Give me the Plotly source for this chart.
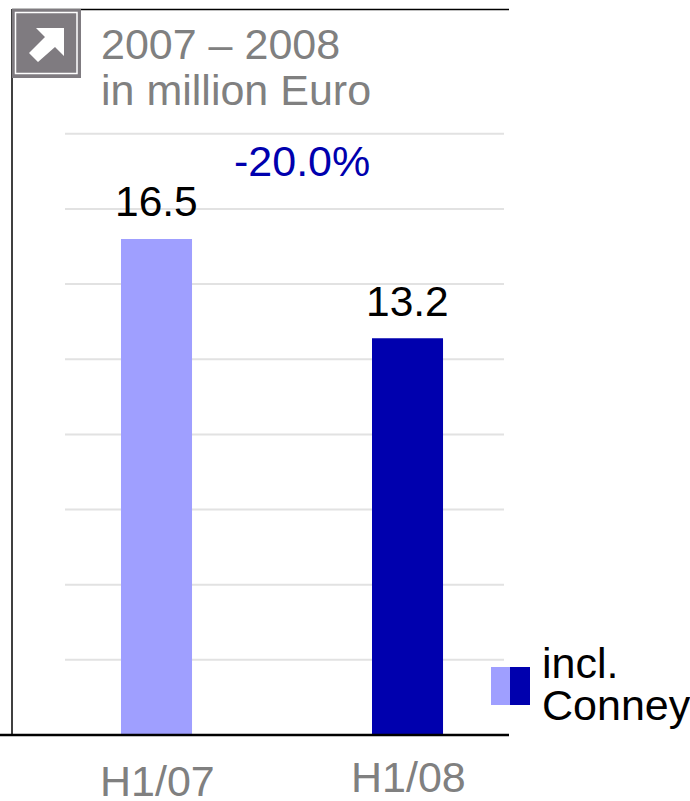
import plotly.graph_objects as go

# Half-year figures in million Euro
periods = ["H1/07", "H1/08"]
revenue = [16.5, 13.2]
bar_colors = ["#9f9fff", "#0000ae"]
value_labels = ["16.5", "13.2"]
change_label = "-20.0%"
title_lines = ["2007 – 2008", "in million Euro"]
legend_lines = ["incl.", "Conney"]
grid_values = [2.5, 5, 7.5, 10, 12.5, 15, 17.5, 20]

W, H = 690, 801
L, R, T, B = 12, 509, 9, 735
FONT = "Liberation Sans, Arial, sans-serif"
SIZE = 43


def fx(px):
    return (px - L) / (R - L)


def fy(py):
    return (B - py) / (B - T)


def pixel_rect(x0, y0, x1, y1, fill, line=None, lw=0):
    return dict(type="rect", xref="paper", yref="paper", x0=fx(x0), x1=fx(x1),
                y0=fy(y1), y1=fy(y0), fillcolor=fill, layer="above",
                line=dict(color=line, width=lw) if line else dict(width=0))


def pixel_line(x0, y0, x1, y1, color, lw):
    return dict(type="line", xref="paper", yref="paper", x0=fx(x0), x1=fx(x1),
                y0=fy(y0), y1=fy(y1), line=dict(color=color, width=lw), layer="above")


def text_at(px, py, text, color, size=SIZE, anchor="center"):
    return dict(xref="paper", yref="paper", x=fx(px), y=fy(py), text=text, showarrow=False,
                xanchor=anchor, yanchor="middle", align="left",
                font=dict(family=FONT, size=size, color=color))


fig = go.Figure(go.Bar(x=periods, y=revenue, width=0.283, marker=dict(color=bar_colors, line=dict(width=0)),
                       hoverinfo="x+y"))

shapes = []
# Horizontal guide lines stop short of the frame on both sides
for v in grid_values:
    shapes.append(dict(type="line", xref="paper", yref="y", x0=fx(65), x1=fx(504), y0=v, y1=v,
                       line=dict(color="#e2e2e2", width=2), layer="below"))

# Frame: top rule, left rule and a heavier baseline
shapes += [
    pixel_line(12, 9.5, 509, 9.5, "#000000", 1.5),
    pixel_line(12, 9, 12, 735, "#000000", 1.5),
    pixel_line(0, 735, 509, 735, "#000000", 2.5),
]

# Arrow badge in the corner
shapes += [
    pixel_rect(12, 9, 81, 78, "#7f7b80"),
    pixel_rect(15.5, 12.5, 77, 73.5, "rgba(0,0,0,0)", "#ffffff", 1.5),
    dict(type="path", xref="paper", yref="paper", layer="above", fillcolor="#ffffff", line=dict(width=0),
         path="M {} {} L {} {} L {} {} L {} {} L {} {} L {} {} L {} {} Z".format(
             fx(36), fy(28), fx(64), fy(28), fx(64), fy(56), fx(55), fy(47),
             fx(38), fy(62), fx(29), fy(53), fx(45), fy(37))),
]

# Two-tone legend swatch
shapes += [
    pixel_rect(491, 667, 510, 705, bar_colors[0]),
    pixel_rect(510, 667, 530, 705, bar_colors[1]),
]

annotations = [
    text_at(99, 44, title_lines[0], "#808080", anchor="left"),
    text_at(99, 90, title_lines[1], "#808080", anchor="left"),
    text_at(302, 161, change_label, "#0000ae"),
    text_at(540, 663, legend_lines[0], "#000000", anchor="left"),
    text_at(540, 705, legend_lines[1], "#000000", anchor="left"),
]

# Values above the bars and period labels under the baseline
annotations += [
    dict(x=p, y=v, yref="y", xref="x", text=t, showarrow=False, yshift=37,
         font=dict(family=FONT, size=42.5, color="#000000"))
    for p, v, t in zip(periods, revenue, value_labels)
]
annotations += [
    text_at(157.5, 781, periods[0], "#808080"),
    text_at(408, 777, periods[1], "#808080"),
]

fig.update_layout(
    width=W, height=H, margin=dict(l=L, r=W - R, t=T, b=H - B),
    paper_bgcolor="#ffffff", plot_bgcolor="#ffffff", showlegend=False,
    xaxis=dict(type="category", range=[-0.5757, 1.4043], showticklabels=False, showgrid=False,
               zeroline=False, ticks=""),
    yaxis=dict(range=[0, 24.15], showticklabels=False, showgrid=False, zeroline=False, ticks=""),
    shapes=shapes, annotations=annotations,
)

fig.write_html("out.html")
